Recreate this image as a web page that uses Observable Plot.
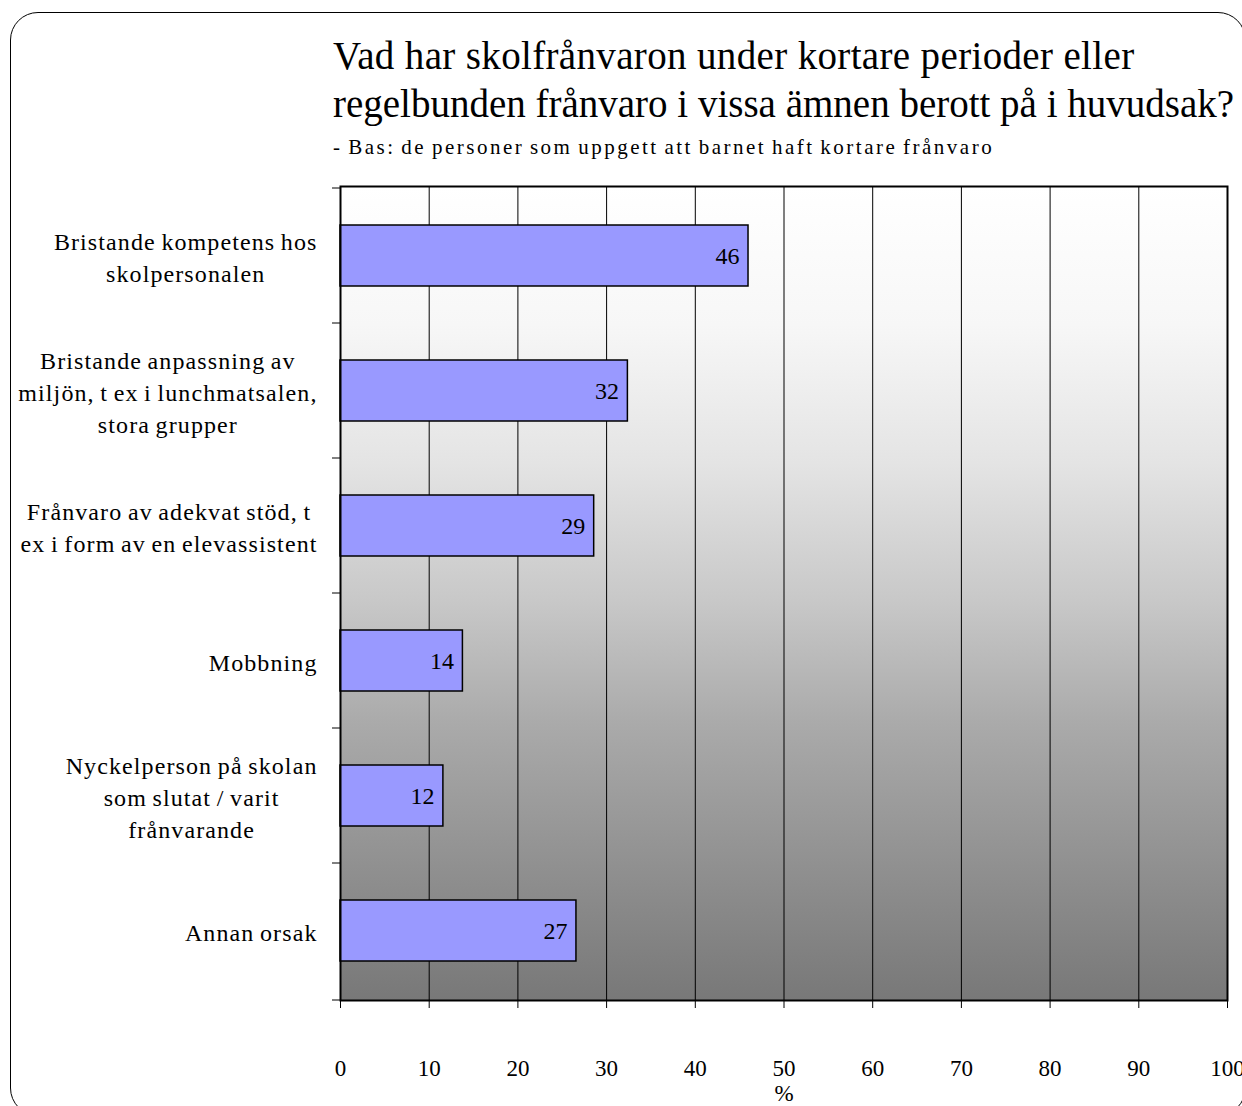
<!DOCTYPE html>
<html>
<head>
<meta charset="utf-8">
<script src="https://cdn.jsdelivr.net/npm/d3@7"></script>
<script src="https://cdn.jsdelivr.net/npm/@observablehq/plot@0.6"></script>
<style>
  body { margin: 0; background: #fff; font-family: "Liberation Serif", "Times New Roman", serif; }
  #wrap { position: relative; width: 1242px; height: 1106px; overflow: hidden; background: #fff; }
  #frame { position: absolute; left: 10px; top: 12px; width: 1236px; height: 1104px; border: 1.5px solid #000; border-radius: 28px; box-sizing: border-box; }
  .title { position: absolute; left: 333px; font-size: 39px; line-height: 1; white-space: nowrap; color: #000; }
  #t1 { letter-spacing: 0.35px; }
  #sub { position: absolute; left: 333px; font-size: 21px; line-height: 1; letter-spacing: 2.5px; word-spacing: -2px; white-space: nowrap; }
  #chart { position: absolute; left: 0; top: 0; }
</style>
</head>
<body>
<div id="wrap">
  <div id="frame"></div>
  <div class="title" id="t1" style="top:36px">Vad har skolfrånvaron under kortare perioder eller</div>
  <div class="title" id="t2" style="top:84px">regelbunden frånvaro i vissa ämnen berott på i huvudsak?</div>
  <div id="sub" style="top:137px">- Bas: de personer som uppgett att barnet haft kortare frånvaro</div>
  <div id="chart"></div>
</div>
<script>
const categories = [
  "Bristande kompetens hos skolpersonalen",
  "Bristande anpassning av miljön, t ex i lunchmatsalen, stora grupper",
  "Frånvaro av adekvat stöd, t ex i form av en elevassistent",
  "Mobbning",
  "Nyckelperson på skolan som slutat / varit frånvarande",
  "Annan orsak"
];
const categoryLabels = [
  "Bristande kompetens hos\nskolpersonalen",
  "Bristande anpassning av\nmiljön, t ex i lunchmatsalen,\nstora grupper",
  "Frånvaro av adekvat stöd, t\nex i form av en elevassistent",
  "Mobbning",
  "Nyckelperson på skolan\nsom slutat / varit\nfrånvarande",
  "Annan orsak"
];
const values = [46, 32.4, 28.6, 13.8, 11.6, 26.6];
const valueLabels = ["46", "32", "29", "14", "12", "27"];
const xTicks = [0, 10, 20, 30, 40, 50, 60, 70, 80, 90, 100];

const rows = categories.map((c, i) => ({category: c, value: values[i], label: valueLabels[i], tick: categoryLabels[i]}));

function background(index, scales, values, d) {
  const g = d3.create("svg:g");
  const grad = g.append("defs").append("linearGradient")
    .attr("id", "bgGrad").attr("x1", 0).attr("y1", 0).attr("x2", 0).attr("y2", 1);
  [[0, "#ffffff"], [0.17, "#f7f7f7"], [0.34, "#e4e4e4"], [0.51, "#c8c8c8"], [0.66, "#aaaaaa"], [1, "#787878"]]
    .forEach(([o, c]) => grad.append("stop").attr("offset", o).attr("stop-color", c));
  g.append("rect")
    .attr("x", d.marginLeft).attr("y", d.marginTop)
    .attr("width", d.width - d.marginLeft - d.marginRight)
    .attr("height", d.height - d.marginTop - d.marginBottom)
    .attr("fill", "url(#bgGrad)");
  return g.node();
}

function boundaryTicks(index, scales, values, d) {
  const g = d3.create("svg:g").attr("stroke", "#000").attr("stroke-width", 1);
  const ys = categories.map(c => scales.y(c));
  ys.push(d.height - d.marginBottom);
  ys.forEach(y => g.append("line")
    .attr("x1", d.marginLeft - 8).attr("x2", d.marginLeft)
    .attr("y1", y).attr("y2", y));
  return g.node();
}

const chart = Plot.plot({
  width: 1242,
  height: 1106,
  marginLeft: 340,
  marginRight: 15,
  marginTop: 186,
  marginBottom: 106,
  style: {fontFamily: '"Liberation Serif", "Times New Roman", serif', background: "transparent", color: "#000"},
  x: {domain: [0, 100]},
  y: {type: "band", domain: categories, padding: 0, axis: null},
  marks: [
    background,
    Plot.ruleX(xTicks, {stroke: "#000", strokeWidth: 1}),
    Plot.barX(rows, {x: "value", y: "category", fill: "#9999ff", stroke: "#000", strokeWidth: 1.5, insetTop: 37, insetBottom: 37}),
    Plot.text(rows, {x: "value", y: "category", text: "label", textAnchor: "end", dx: -9, fontSize: 24, fill: "#000"}),
    Plot.text(rows, {y: "category", text: "tick", frameAnchor: "left", dx: -23, textAnchor: "end", lineAnchor: "middle", lineHeight: 1.333, fontSize: 24, fill: "#000"}),
    boundaryTicks,
    Plot.frame({stroke: "#000", strokeWidth: 2}),
    Plot.axisX({ticks: xTicks, tickSize: 8, tickPadding: 51, fontSize: 23, label: "%", labelAnchor: "center", labelArrow: "none", labelOffset: 100})
  ]
});

document.getElementById("chart").append(chart);

// Category labels: right-aligned block, lines centred within it (as in the original)
const flatLabels = new Set(categoryLabels.map(s => s.replace(/\n/g, "")));
chart.querySelectorAll("text").forEach(t => {
  if (!flatLabels.has(t.textContent)) return;
  t.style.letterSpacing = "1.1px";
  t.style.wordSpacing = "-1.5px";
  const w = t.getBBox().width;
  t.setAttribute("text-anchor", "middle");
  t.querySelectorAll("tspan").forEach(s => s.setAttribute("text-anchor", "middle"));
  const tr = t.getAttribute("transform") || "";
  t.setAttribute("transform", tr + ` translate(${-w / 2},0)`);
});
</script>
</body>
</html>
